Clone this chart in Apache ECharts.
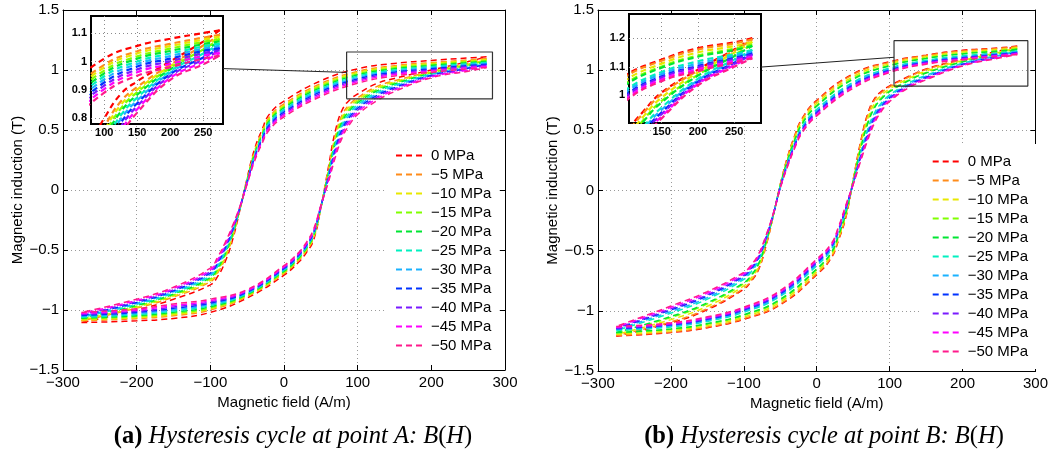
<!DOCTYPE html>
<html><head><meta charset="utf-8">
<script src="https://cdn.jsdelivr.net/npm/echarts@6/dist/echarts.min.js"></script>
<style>html,body{margin:0;padding:0;background:#fff}#c{width:1051px;height:457px}</style>
</head><body><div id="c"></div>
<script>
// ---------- data ----------
const NAMES = ['0 MPa','\u22125 MPa','\u221210 MPa','\u221215 MPa','\u221220 MPa','\u221225 MPa','\u221230 MPa','\u221235 MPa','\u221240 MPa','\u221245 MPa','\u221250 MPa'];
const COLORS = ['#ff0000','#ff8c1a','#e8e800','#80ff00','#00e633','#00f0c0','#1ab2ff','#0033ff','#7a1aff','#ff00ff','#ff1a8c'];

// field values (A/m): descending branch and ascending branch
const H_UP = [275, 250, 200, 150, 100, 50, 0, -20, -30, -40, -50, -60, -70, -80, -90, -100, -150, -200, -275];
const H_LO = [-275, -200, -150, -100, -50, 0, 20, 30, 40, 50, 60, 70, 80, 90, 100, 125, 150, 200, 250, 275];

// Panel (a): point A, induction (T) on descending branch
const A_UP_0  = [1.11, 1.10, 1.08, 1.055, 1.01, 0.91, 0.74, 0.63, 0.500, 0.34, 0.10, -0.17, -0.42, -0.60, -0.720, -0.79, -0.91, -1.00, -1.105];
const A_UP_1  = [1.094, 1.084, 1.062, 1.036, 0.988, 0.887, 0.717, 0.607, 0.479, 0.322, 0.091, -0.165, -0.398, -0.571, -0.691, -0.765, -0.892, -0.984, -1.090];
const A_UP_2  = [1.087, 1.077, 1.054, 1.028, 0.979, 0.876, 0.706, 0.596, 0.470, 0.314, 0.087, -0.162, -0.389, -0.558, -0.678, -0.754, -0.884, -0.977, -1.083];
const A_UP_3  = [1.079, 1.069, 1.045, 1.018, 0.968, 0.865, 0.695, 0.585, 0.460, 0.305, 0.083, -0.160, -0.378, -0.544, -0.664, -0.741, -0.875, -0.969, -1.075];
const A_UP_4  = [1.071, 1.061, 1.037, 1.010, 0.958, 0.854, 0.684, 0.574, 0.451, 0.297, 0.079, -0.157, -0.368, -0.531, -0.651, -0.730, -0.867, -0.961, -1.068];
const A_UP_5  = [1.063, 1.053, 1.028, 1.000, 0.948, 0.842, 0.672, 0.562, 0.440, 0.288, 0.074, -0.154, -0.358, -0.517, -0.637, -0.717, -0.858, -0.953, -1.061];
const A_UP_6  = [1.055, 1.045, 1.019, 0.991, 0.937, 0.831, 0.661, 0.551, 0.430, 0.279, 0.070, -0.152, -0.347, -0.502, -0.622, -0.705, -0.849, -0.945, -1.053];
const A_UP_7  = [1.047, 1.037, 1.010, 0.982, 0.926, 0.819, 0.649, 0.539, 0.420, 0.270, 0.065, -0.149, -0.336, -0.488, -0.608, -0.692, -0.840, -0.937, -1.046];
const A_UP_8  = [1.039, 1.029, 1.001, 0.972, 0.915, 0.807, 0.637, 0.527, 0.409, 0.261, 0.061, -0.146, -0.325, -0.474, -0.594, -0.679, -0.831, -0.929, -1.038];
const A_UP_9  = [1.030, 1.020, 0.991, 0.962, 0.903, 0.794, 0.624, 0.514, 0.398, 0.251, 0.056, -0.143, -0.313, -0.458, -0.578, -0.665, -0.821, -0.920, -1.029];
const A_UP_10 = [1.02, 1.01, 0.98, 0.95, 0.89, 0.78, 0.61, 0.50, 0.385, 0.24, 0.05, -0.14, -0.30, -0.44, -0.560, -0.65, -0.81, -0.91, -1.02];
// Panel (a): ascending branch
const A_LO_0  = [-1.105, -1.09, -1.07, -1.02, -0.90, -0.71, -0.60, -0.525, -0.42, -0.150, 0.18, 0.50, 0.68, 0.755, 0.80, 0.885, 0.93, 1.00, 1.07, 1.11];
const A_LO_1  = [-1.090, -1.072, -1.048, -1.000, -0.887, -0.696, -0.586, -0.510, -0.404, -0.148, 0.158, 0.460, 0.639, 0.719, 0.769, 0.859, 0.910, 0.988, 1.056, 1.094];
const A_LO_2  = [-1.083, -1.064, -1.039, -0.991, -0.882, -0.689, -0.579, -0.503, -0.397, -0.146, 0.149, 0.443, 0.620, 0.703, 0.756, 0.847, 0.901, 0.983, 1.049, 1.087];
const A_LO_3  = [-1.075, -1.055, -1.028, -0.982, -0.876, -0.682, -0.572, -0.495, -0.389, -0.145, 0.138, 0.423, 0.600, 0.685, 0.741, 0.834, 0.892, 0.977, 1.042, 1.079];
const A_LO_4  = [-1.068, -1.047, -1.018, -0.973, -0.870, -0.676, -0.566, -0.488, -0.381, -0.143, 0.128, 0.405, 0.581, 0.669, 0.727, 0.823, 0.883, 0.972, 1.036, 1.071];
const A_LO_5  = [-1.061, -1.038, -1.008, -0.963, -0.864, -0.668, -0.558, -0.481, -0.373, -0.141, 0.118, 0.386, 0.560, 0.651, 0.712, 0.810, 0.873, 0.966, 1.028, 1.063];
const A_LO_6  = [-1.053, -1.029, -0.997, -0.953, -0.857, -0.661, -0.551, -0.473, -0.365, -0.139, 0.107, 0.366, 0.540, 0.633, 0.696, 0.797, 0.863, 0.960, 1.021, 1.055];
const A_LO_7  = [-1.046, -1.020, -0.986, -0.943, -0.851, -0.654, -0.544, -0.466, -0.357, -0.137, 0.096, 0.346, 0.519, 0.615, 0.681, 0.784, 0.853, 0.955, 1.014, 1.047];
const A_LO_8  = [-1.038, -1.011, -0.975, -0.933, -0.845, -0.647, -0.537, -0.458, -0.349, -0.135, 0.085, 0.326, 0.498, 0.597, 0.666, 0.770, 0.843, 0.949, 1.007, 1.039];
const A_LO_9  = [-1.029, -1.001, -0.963, -0.922, -0.838, -0.639, -0.529, -0.449, -0.340, -0.133, 0.073, 0.304, 0.475, 0.577, 0.649, 0.756, 0.832, 0.942, 0.999, 1.030];
const A_LO_10 = [-1.02, -0.99, -0.95, -0.91, -0.83, -0.63, -0.52, -0.440, -0.33, -0.130, 0.06, 0.28, 0.45, 0.555, 0.63, 0.74, 0.82, 0.935, 0.99, 1.02];

// Panel (b): point B, descending branch
const B_UP_0  = [1.20, 1.185, 1.165, 1.125, 1.07, 0.97, 0.75, 0.60, 0.460, 0.28, 0.05, -0.22, -0.47, -0.66, -0.755, -0.82, -0.99, -1.10, -1.21];
const B_UP_1  = [1.196, 1.181, 1.160, 1.121, 1.065, 0.963, 0.742, 0.593, 0.454, 0.275, 0.048, -0.219, -0.465, -0.652, -0.747, -0.812, -0.981, -1.092, -1.205];
const B_UP_2  = [1.187, 1.172, 1.150, 1.111, 1.053, 0.947, 0.725, 0.577, 0.440, 0.265, 0.044, -0.216, -0.453, -0.635, -0.729, -0.793, -0.962, -1.073, -1.195];
const B_UP_3  = [1.178, 1.163, 1.139, 1.101, 1.041, 0.932, 0.708, 0.562, 0.426, 0.254, 0.040, -0.214, -0.441, -0.618, -0.712, -0.775, -0.942, -1.055, -1.184];
const B_UP_4  = [1.173, 1.158, 1.135, 1.097, 1.036, 0.924, 0.701, 0.554, 0.420, 0.250, 0.039, -0.212, -0.436, -0.611, -0.704, -0.767, -0.933, -1.047, -1.180];
const B_UP_5  = [1.159, 1.144, 1.119, 1.082, 1.018, 0.900, 0.675, 0.530, 0.399, 0.234, 0.033, -0.208, -0.418, -0.585, -0.677, -0.739, -0.903, -1.019, -1.164];
const B_UP_6  = [1.153, 1.138, 1.111, 1.075, 1.010, 0.890, 0.663, 0.520, 0.390, 0.226, 0.030, -0.207, -0.410, -0.573, -0.665, -0.726, -0.890, -1.006, -1.156];
const B_UP_7  = [1.146, 1.131, 1.103, 1.067, 1.001, 0.878, 0.650, 0.508, 0.379, 0.218, 0.027, -0.205, -0.401, -0.560, -0.651, -0.712, -0.875, -0.992, -1.148];
const B_UP_8  = [1.142, 1.127, 1.099, 1.063, 0.995, 0.870, 0.642, 0.500, 0.373, 0.214, 0.025, -0.203, -0.395, -0.552, -0.643, -0.704, -0.866, -0.984, -1.144];
const B_UP_9  = [1.136, 1.121, 1.091, 1.056, 0.987, 0.860, 0.630, 0.490, 0.363, 0.206, 0.022, -0.202, -0.387, -0.540, -0.631, -0.691, -0.852, -0.971, -1.136];
const B_UP_10 = [1.13, 1.115, 1.085, 1.05, 0.98, 0.85, 0.62, 0.48, 0.355, 0.20, 0.02, -0.20, -0.38, -0.53, -0.620, -0.68, -0.84, -0.96, -1.13];
// Panel (b): ascending branch
const B_LO_0  = [-1.21, -1.18, -1.14, -1.07, -0.95, -0.70, -0.56, -0.410, -0.22, 0.09, 0.40, 0.64, 0.77, 0.830, 0.87, 0.945, 1.01, 1.09, 1.16, 1.20];
const B_LO_1  = [-1.205, -1.175, -1.135, -1.064, -0.943, -0.692, -0.553, -0.403, -0.214, 0.088, 0.390, 0.627, 0.758, 0.820, 0.862, 0.939, 1.005, 1.087, 1.156, 1.196];
const B_LO_2  = [-1.195, -1.165, -1.123, -1.051, -0.927, -0.675, -0.537, -0.389, -0.201, 0.082, 0.370, 0.598, 0.732, 0.800, 0.845, 0.927, 0.993, 1.080, 1.149, 1.187];
const B_LO_3  = [-1.184, -1.154, -1.111, -1.038, -0.912, -0.658, -0.522, -0.375, -0.188, 0.077, 0.349, 0.570, 0.706, 0.779, 0.828, 0.915, 0.981, 1.072, 1.141, 1.178];
const B_LO_4  = [-1.180, -1.150, -1.106, -1.032, -0.904, -0.651, -0.514, -0.368, -0.182, 0.075, 0.339, 0.556, 0.694, 0.769, 0.821, 0.909, 0.976, 1.069, 1.137, 1.173];
const B_LO_5  = [-1.164, -1.134, -1.088, -1.012, -0.880, -0.625, -0.490, -0.346, -0.162, 0.067, 0.307, 0.512, 0.654, 0.737, 0.795, 0.890, 0.958, 1.058, 1.125, 1.159];
const B_LO_6  = [-1.156, -1.126, -1.080, -1.003, -0.870, -0.613, -0.480, -0.336, -0.153, 0.063, 0.293, 0.493, 0.636, 0.723, 0.783, 0.881, 0.950, 1.053, 1.120, 1.153];
const B_LO_7  = [-1.148, -1.118, -1.071, -0.993, -0.858, -0.600, -0.468, -0.325, -0.143, 0.059, 0.277, 0.471, 0.616, 0.707, 0.770, 0.872, 0.941, 1.048, 1.114, 1.146];
const B_LO_8  = [-1.144, -1.114, -1.065, -0.987, -0.850, -0.592, -0.460, -0.319, -0.137, 0.057, 0.267, 0.457, 0.604, 0.697, 0.762, 0.866, 0.935, 1.044, 1.110, 1.142];
const B_LO_9  = [-1.136, -1.106, -1.057, -0.978, -0.840, -0.580, -0.450, -0.309, -0.128, 0.053, 0.253, 0.438, 0.586, 0.683, 0.750, 0.858, 0.927, 1.040, 1.105, 1.136];
const B_LO_10 = [-1.13, -1.10, -1.05, -0.97, -0.83, -0.57, -0.44, -0.300, -0.12, 0.05, 0.24, 0.42, 0.57, 0.670, 0.74, 0.85, 0.92, 1.035, 1.10, 1.13];

// zoom rectangles (data coords) and inset ranges
const RECT_A = [[85, 0.76], [283, 0.76], [283, 1.15], [85, 1.15], [85, 0.76]];
const RECT_B = [[106, 0.868], [289.5, 0.868], [289.5, 1.245], [106, 1.245], [106, 0.868]];
const INSET_A_X = [80, 280], INSET_A_Y = [0.78, 1.16];
const INSET_B_X = [105, 287], INSET_B_Y = [0.904, 1.284];
const LINK_A = {inset: [280, 0.975], main: [85, 0.98]};
const LINK_B = {inset: [287, 1.099], main: [106, 1.107]};

const A_UP = [A_UP_0,A_UP_1,A_UP_2,A_UP_3,A_UP_4,A_UP_5,A_UP_6,A_UP_7,A_UP_8,A_UP_9,A_UP_10];
const A_LO = [A_LO_0,A_LO_1,A_LO_2,A_LO_3,A_LO_4,A_LO_5,A_LO_6,A_LO_7,A_LO_8,A_LO_9,A_LO_10];
const B_UP = [B_UP_0,B_UP_1,B_UP_2,B_UP_3,B_UP_4,B_UP_5,B_UP_6,B_UP_7,B_UP_8,B_UP_9,B_UP_10];
const B_LO = [B_LO_0,B_LO_1,B_LO_2,B_LO_3,B_LO_4,B_LO_5,B_LO_6,B_LO_7,B_LO_8,B_LO_9,B_LO_10];

// ---------- chart ----------
const FONT = "'Liberation Sans', Arial, Helvetica, sans-serif";
const SERIF = "'Liberation Serif', 'Times New Roman', serif";
const fmt = v => (v < 0 ? '\u2212' + String(-v) : String(v));
const GRIDLINE = {show: true, lineStyle: {color: '#9a9a9a', type: [1, 3], width: 1}};

function mainAxes(grid) {
  const x = [
    {gridIndex: grid, type: 'value', min: -300, max: 300, interval: 100, position: 'bottom',
     axisLine: {show: true, onZero: false, lineStyle: {color: '#000', width: 1}},
     axisTick: {show: true, inside: true, length: 5, lineStyle: {color: '#000'}},
     axisLabel: {show: true, fontSize: 15, color: '#000', fontFamily: FONT, margin: 5, formatter: fmt},
     splitLine: GRIDLINE,
     name: 'Magnetic field (A/m)', nameLocation: 'middle', nameGap: 21,
     nameTextStyle: {fontSize: 15, color: '#000', fontFamily: FONT}},
    {gridIndex: grid, type: 'value', min: -300, max: 300, interval: 100, position: 'top',
     axisLine: {show: true, onZero: false, lineStyle: {color: '#000', width: 1}},
     axisTick: {show: true, inside: true, length: 5, lineStyle: {color: '#000'}},
     axisLabel: {show: false}, splitLine: {show: false}}
  ];
  const y = [
    {gridIndex: grid, type: 'value', min: -1.5, max: 1.5, interval: 0.5, position: 'left',
     axisLine: {show: true, onZero: false, lineStyle: {color: '#000', width: 1}},
     axisTick: {show: true, inside: true, length: 5, lineStyle: {color: '#000'}},
     axisLabel: {show: true, fontSize: 15, color: '#000', fontFamily: FONT, margin: 4, formatter: fmt},
     splitLine: GRIDLINE,
     name: 'Magnetic induction (T)', nameLocation: 'middle', nameGap: 38, nameRotate: 90,
     nameTextStyle: {fontSize: 15, color: '#000', fontFamily: FONT}},
    {gridIndex: grid, type: 'value', min: -1.5, max: 1.5, interval: 0.5, position: 'right',
     axisLine: {show: true, onZero: false, lineStyle: {color: '#000', width: 1}},
     axisTick: {show: true, inside: true, length: 5, lineStyle: {color: '#000'}},
     axisLabel: {show: false}, splitLine: {show: false}}
  ];
  return {x, y};
}
function insetAxes(grid, xr, yr) {
  const lab = {show: true, fontSize: 11, fontWeight: 'bold', color: '#000', fontFamily: FONT, showMinLabel: false, showMaxLabel: false};
  const sl = {show: true, showMinLine: false, showMaxLine: false, lineStyle: {color: '#8a8a8a', type: [1, 3], width: 1}};
  return {
    x: {gridIndex: grid, type: 'value', min: xr[0], max: xr[1], splitNumber: 4, z: 6,
        axisLine: {show: false}, axisTick: {show: false}, axisLabel: Object.assign({margin: 3}, lab), splitLine: sl},
    y: {gridIndex: grid, type: 'value', min: yr[0], max: yr[1], splitNumber: 4, z: 6,
        axisLine: {show: false}, axisTick: {show: false}, axisLabel: Object.assign({margin: 4}, lab), splitLine: sl}
  };
}

const mA = mainAxes(0), iA = insetAxes(1, INSET_A_X, INSET_A_Y);
const mB = mainAxes(2), iB = insetAxes(3, INSET_B_X, INSET_B_Y);
// xAxis: 0 A-bottom,1 A-top,2 A-inset,3 B-bottom,4 B-top,5 B-inset (same for yAxis)
const xAxis = [mA.x[0], mA.x[1], iA.x, mB.x[0], mB.x[1], iB.x];
const yAxis = [mA.y[0], mA.y[1], iA.y, mB.y[0], mB.y[1], iB.y];

function branch(name, color, H, B, ax, width, z) {
  return {type: 'line', name, xAxisIndex: ax, yAxisIndex: ax,
    data: H.map((h, i) => [h, B[i]]), symbol: 'none', showSymbol: false,
    smooth: 0.45, clip: true, silent: true, z,
    lineStyle: {color, width, type: [6, 4]}, itemStyle: {color},
    emphasis: {disabled: true}, animation: false};
}
const series = [];
for (let k = 0; k < 11; k++) {
  series.push(branch(NAMES[k], COLORS[k], H_UP, A_UP[k], 0, 1.5, 2));
  series.push(branch(NAMES[k], COLORS[k], H_LO, A_LO[k], 0, 1.5, 2));
  series.push(branch(NAMES[k], COLORS[k], H_UP, A_UP[k], 2, 2.2, 7));
  series.push(branch(NAMES[k], COLORS[k], H_LO, A_LO[k], 2, 2.2, 7));
  series.push(branch(NAMES[k], COLORS[k], H_UP, B_UP[k], 3, 1.5, 2));
  series.push(branch(NAMES[k], COLORS[k], H_LO, B_LO[k], 3, 1.5, 2));
  series.push(branch(NAMES[k], COLORS[k], H_UP, B_UP[k], 5, 2.2, 7));
  series.push(branch(NAMES[k], COLORS[k], H_LO, B_LO[k], 5, 2.2, 7));
}
series.push({type: 'line', name: 'rectA', xAxisIndex: 0, yAxisIndex: 0, data: RECT_A, symbol: 'none',
  lineStyle: {color: '#333', width: 1.2, type: 'solid'}, silent: true, z: 4, animation: false});
series.push({type: 'line', name: 'rectB', xAxisIndex: 3, yAxisIndex: 3, data: RECT_B, symbol: 'none',
  lineStyle: {color: '#333', width: 1.2, type: 'solid'}, silent: true, z: 4, animation: false});

function legend(left, top) {
  return {show: true, orient: 'vertical', left, top, padding: [10, 8, 10, 10], backgroundColor: '#fff',
    borderWidth: 0, itemWidth: 30, itemHeight: 14, itemGap: 4, data: NAMES, selectedMode: false,
    itemStyle: {opacity: 0}, z: 4,
    textStyle: {fontSize: 15, color: '#000', fontFamily: FONT}};
}

function caption(x, letter, pt) {
  const base = {fontFamily: SERIF, fontSize: 24.5, fill: '#000', color: '#000'};
  return {type: 'text', x, y: 437, z: 10, silent: true,
    style: {text: '{b|(' + letter + ')}{i| Hysteresis cycle at point ' + pt + ': B}{n|(}{i|H}{n|)}',
      align: 'center', verticalAlign: 'middle', textAlign: 'center', textVerticalAlign: 'middle',
      rich: {b: Object.assign({fontWeight: 'bold'}, base), i: Object.assign({fontStyle: 'italic'}, base), n: base}}};
}

const option = {
  animation: false,
  backgroundColor: '#fff',
  textStyle: {fontFamily: FONT},
  grid: [
    {left: 63, top: 10, width: 442, height: 360, show: false},
    {left: 91, top: 16, width: 132, height: 108, show: true, backgroundColor: '#fff', borderColor: '#000', borderWidth: 2, z: 5},
    {left: 598, top: 10, width: 439, height: 361, show: false},
    {left: 629, top: 14, width: 132, height: 109, show: true, backgroundColor: '#fff', borderColor: '#000', borderWidth: 2, z: 5}
  ],
  xAxis, yAxis, series,
  legend: [legend(385, 138), legend(921.7, 144)],
  graphic: [caption(293, 'a', 'A'), caption(824, 'b', 'B')]
};

const chart = echarts.init(document.getElementById('c'), null, {renderer: 'canvas'});
chart.setOption(option);

// connector lines from insets to zoom rectangles
const pa1 = chart.convertToPixel({gridIndex: 1}, LINK_A.inset);
const pa2 = chart.convertToPixel({gridIndex: 0}, LINK_A.main);
const pb1 = chart.convertToPixel({gridIndex: 3}, LINK_B.inset);
const pb2 = chart.convertToPixel({gridIndex: 2}, LINK_B.main);
chart.setOption({graphic: [
  caption(293, 'a', 'A'), caption(824, 'b', 'B'),
  {type: 'line', z: 9, silent: true, shape: {x1: pa1[0], y1: pa1[1], x2: pa2[0], y2: pa2[1]}, style: {stroke: '#222', lineWidth: 1}},
  {type: 'line', z: 9, silent: true, shape: {x1: pb1[0], y1: pb1[1], x2: pb2[0], y2: pb2[1]}, style: {stroke: '#222', lineWidth: 1}}
]});
</script>
</body></html>
